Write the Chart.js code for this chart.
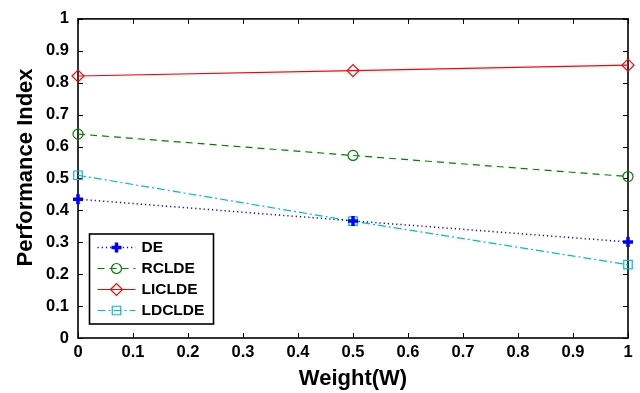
<!DOCTYPE html>
<html lang="en">
<head>
<meta charset="UTF-8">
<title>Performance Index vs Weight</title>
<script src="https://cdn.jsdelivr.net/npm/chart.js"></script>
<style>
    html, body { margin: 0; padding: 0; background: #fff; }
    #wrap { width: 640px; height: 393px; }
</style>
</head>
<body>
<div id="wrap"><canvas id="chart" width="640" height="393"></canvas></div>
<script>
// data
const weights = [0, 0.5, 1];
const seriesNames = ['DE', 'RCLDE', 'LICLDE', 'LDCLDE'];
const deValues = [0.435, 0.367, 0.301];
const rcldeValues = [0.639, 0.572, 0.506];
const licldeValues = [0.821, 0.838, 0.855];
const ldcldeValues = [0.510, 0.366, 0.230];

const tickValues = [0, 0.1, 0.2, 0.3, 0.4, 0.5, 0.6, 0.7, 0.8, 0.9, 1];
const tickLabels = ['0', '0.1', '0.2', '0.3', '0.4', '0.5', '0.6', '0.7', '0.8', '0.9', '1'];

const xTitle = 'Weight(W)';
const yTitle = 'Performance Index';

const FONT = '"Liberation Sans", Arial, Helvetica, sans-serif';

function pts(values) {
    return weights.map((w, i) => ({ x: w, y: values[i] }));
}

// box around the axes with inward ticks on all four sides (matlab look)
const frameAndTicks = {
    id: 'frameAndTicks',
    beforeDatasetsDraw(chart) {
        const { ctx, chartArea: a, scales: { x, y } } = chart;
        ctx.save();
        ctx.strokeStyle = '#000';
        ctx.lineWidth = 1;
        ctx.beginPath();
        tickValues.forEach(v => {
            const px = Math.round(x.getPixelForValue(v)) + 0.5;
            ctx.moveTo(px, a.bottom); ctx.lineTo(px, a.bottom - 5);
            ctx.moveTo(px, a.top); ctx.lineTo(px, a.top + 5);
            const py = Math.round(y.getPixelForValue(v)) + 0.5;
            ctx.moveTo(a.left, py); ctx.lineTo(a.left + 5, py);
            ctx.moveTo(a.right, py); ctx.lineTo(a.right - 5, py);
        });
        ctx.stroke();
        ctx.lineWidth = 1.6;
        ctx.strokeRect(a.left, a.top, a.right - a.left, a.bottom - a.top);
        ctx.restore();
    },
    afterDraw(chart) {
        // y label, sits a bit above the middle of the axis like in the figure
        const { ctx, chartArea: a } = chart;
        ctx.save();
        ctx.translate(25.5, (a.top + a.bottom) / 2 - 11);
        ctx.rotate(-Math.PI / 2);
        ctx.font = 'bold 22px ' + FONT;
        ctx.fillStyle = '#000';
        ctx.textAlign = 'center';
        ctx.textBaseline = 'middle';
        ctx.fillText(yTitle, 0, 0);
        ctx.restore();
    }
};

// legend box in the lower left corner of the plot
const boxLegend = {
    id: 'boxLegend',
    afterDatasetsDraw(chart) {
        const { ctx, chartArea: a } = chart;
        const left = a.left + 11.5, top = a.bottom - 104, w = 124, h = 90;
        ctx.save();
        ctx.fillStyle = '#fff';
        ctx.fillRect(left, top, w, h);
        ctx.lineWidth = 1.6;
        ctx.strokeStyle = '#000';
        ctx.strokeRect(left, top, w, h);
        ctx.font = 'bold 15.5px ' + FONT;
        ctx.textBaseline = 'middle';
        chart.data.datasets.forEach((ds, i) => {
            const cy = top + 13.5 + i * 21;
            const x0 = left + 8, x1 = left + 46, xm = (x0 + x1) / 2;
            ctx.strokeStyle = ds.borderColor;
            ctx.lineWidth = ds.borderWidth;
            ctx.setLineDash(ds.borderDash || []);
            ctx.beginPath();
            ctx.moveTo(x0, cy);
            ctx.lineTo(x1, cy);
            ctx.stroke();
            ctx.setLineDash([]);
            ctx.lineWidth = ds.pointBorderWidth;
            ctx.strokeStyle = ds.pointBorderColor;
            ctx.fillStyle = ds.pointBackgroundColor;
            Chart.helpers.drawPoint(ctx, {
                pointStyle: ds.pointStyle,
                radius: ds.pointRadius,
                rotation: 0,
                borderWidth: ds.pointBorderWidth
            }, xm, cy);
            ctx.fillStyle = '#000';
            ctx.fillText(ds.label, left + 52, cy + 0.5);
        });
        ctx.restore();
    }
};

new Chart(document.getElementById('chart'), {
    type: 'line',
    data: {
        datasets: [
            {
                label: seriesNames[0], data: pts(deValues),
                borderColor: '#0000ff', borderWidth: 1.5, borderDash: [1.2, 3],
                pointStyle: 'cross', pointRadius: 5, pointBorderWidth: 3.5,
                pointBorderColor: '#0000ff', pointBackgroundColor: 'transparent'
            },
            {
                label: seriesNames[1], data: pts(rcldeValues),
                borderColor: '#008000', borderWidth: 1.2, borderDash: [7, 5],
                pointStyle: 'circle', pointRadius: 5, pointBorderWidth: 1.2,
                pointBorderColor: '#008000', pointBackgroundColor: 'transparent'
            },
            {
                label: seriesNames[2], data: pts(licldeValues),
                borderColor: '#ff0000', borderWidth: 1.2, borderDash: [],
                pointStyle: 'rectRot', pointRadius: 6, pointBorderWidth: 1.2,
                pointBorderColor: '#ff0000', pointBackgroundColor: 'transparent'
            },
            {
                label: seriesNames[3], data: pts(ldcldeValues),
                borderColor: '#00bfbf', borderWidth: 1.2, borderDash: [8, 3, 2, 3],
                pointStyle: 'rect', pointRadius: 6, pointBorderWidth: 1.2,
                pointBorderColor: '#00bfbf', pointBackgroundColor: 'transparent'
            }
        ].map(d => Object.assign(d, { fill: false, tension: 0, clip: false }))
    },
    options: {
        responsive: false,
        animation: false,
        devicePixelRatio: 1,
        layout: { padding: { top: 15, right: 12, left: 0, bottom: 0 } },
        plugins: {
            legend: { display: false },
            tooltip: { enabled: false }
        },
        scales: {
            x: {
                type: 'linear', min: 0, max: 1,
                afterBuildTicks: s => { s.ticks = tickValues.map(v => ({ value: v })); },
                afterFit: s => { s.height = 55; },
                grid: { display: false, drawTicks: false },
                border: { display: false },
                ticks: {
                    padding: 5, color: '#000', maxRotation: 0, autoSkip: false,
                    font: { family: FONT, size: 16.5, weight: 'bold' },
                    callback: (v, i) => tickLabels[i]
                },
                title: {
                    display: true, text: xTitle, color: '#000',
                    font: { family: FONT, size: 22, weight: 'bold' },
                    padding: { top: 0, bottom: 1 }
                }
            },
            y: {
                type: 'linear', min: 0, max: 1,
                afterBuildTicks: s => { s.ticks = tickValues.map(v => ({ value: v })); },
                afterFit: s => { s.width = 78; },
                grid: { display: false, drawTicks: false },
                border: { display: false },
                ticks: {
                    padding: 9, color: '#000', autoSkip: false,
                    font: { family: FONT, size: 16.5, weight: 'bold' },
                    callback: (v, i) => tickLabels[i]
                }
            }
        }
    },
    plugins: [frameAndTicks, boxLegend]
});
</script>
</body>
</html>
